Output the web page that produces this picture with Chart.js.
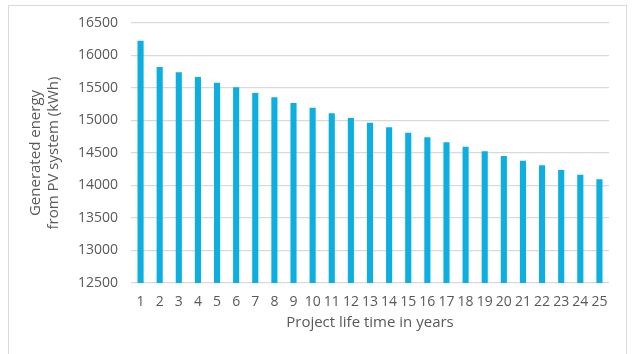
<!DOCTYPE html>
<html>
<head>
<meta charset="utf-8">
<script src="https://cdn.jsdelivr.net/npm/chart.js@4.4.1/dist/chart.umd.min.js"></script>
<style>
  html, body { margin: 0; padding: 0; background: #fff; overflow: hidden; }
  #wrap { position: relative; width: 633px; height: 354px; }
  #frame { position: absolute; left: 8px; top: 5px; width: 619px; height: 370px; border: 1px solid #d9d9d9; box-sizing: border-box; }
  canvas { position: absolute; left: 0; top: 0; }
</style>
</head>
<body>
<div id="wrap">
  <div id="frame"></div>
  <canvas id="c" width="633" height="354"></canvas>
</div>
<script>
const years = ['1','2','3','4','5','6','7','8','9','10','11','12','13','14','15','16','17','18','19','20','21','22','23','24','25'];
const energy = [16228, 15823, 15742, 15669, 15582, 15511, 15423, 15357, 15269, 15197, 15111, 15038, 14966, 14895, 14812, 14741, 14664, 14597, 14526, 14454, 14382, 14311, 14238, 14166, 14095];
const yMin = 12500, yMax = 16500, yStep = 500;
const xTitle = 'Project life time in years';
const yTitle = ['Generated energy', 'from PV system (kWh)'];

const textColor = '#595959';
const fontFamily = '"Open Sans", "Liberation Sans", sans-serif';

new Chart(document.getElementById('c'), {
  type: 'bar',
  data: {
    labels: years,
    datasets: [{
      data: energy,
      backgroundColor: '#0CAFE0',
      borderWidth: 0,
      barPercentage: 0.32,
      categoryPercentage: 1.0
    }]
  },
  options: {
    responsive: false,
    animation: false,
    devicePixelRatio: 1,
    layout: { padding: { left: 27, right: 24, top: 23, bottom: 0 } },
    plugins: { legend: { display: false }, tooltip: { enabled: false } },
    scales: {
      x: {
        grid: { display: false, drawTicks: false },
        border: { display: false },
        ticks: { color: textColor, font: { family: fontFamily, size: 14 }, padding: 11, maxRotation: 0, autoSkip: false },
        title: { display: true, text: xTitle, color: textColor, font: { family: fontFamily, size: 15 }, padding: { top: 0, bottom: 22 } },
        afterFit: (s) => { s.height = 71; }
      },
      y: {
        min: yMin, max: yMax,
        grid: { color: '#d9d9d9', lineWidth: 1.3, drawTicks: false },
        border: { display: false },
        ticks: { stepSize: yStep, color: textColor, font: { family: fontFamily, size: 14 }, padding: 13, callback: (v) => String(v) },
        title: { display: true, text: yTitle, color: textColor, font: { family: fontFamily, size: 15 }, padding: { top: 0, bottom: 0 } },
        afterFit: (s) => { s.width = 104; }
      }
    }
  }
});
</script>
</body>
</html>
